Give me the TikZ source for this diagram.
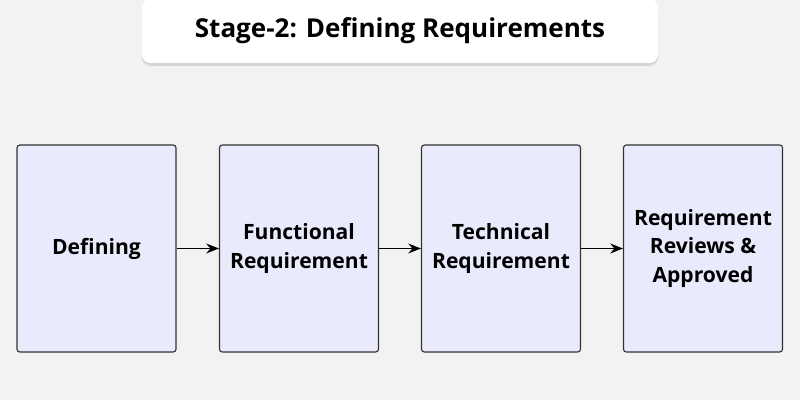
\documentclass[tikz,border=0pt]{standalone}
\usepackage{fontspec}
\setmainfont{Open Sans}
\usetikzlibrary{arrows.meta,positioning,shadows}
\definecolor{bgcol}{HTML}{F2F2F2}
\definecolor{boxcol}{HTML}{E9EAFB}
\begin{document}
\begin{tikzpicture}[x=0.025cm,y=-0.025cm,>={Stealth[length=9pt,width=7pt]},
  stage node/.style={draw=black!80,fill=boxcol,rounded corners=2pt,line width=0.8pt,
    minimum width=159*0.025cm,minimum height=207*0.025cm,align=center,
    font=\fontsize{15}{20}\selectfont\bfseries},
  title node/.style={fill=white,rounded corners=6pt,minimum width=516*0.025cm,
    minimum height=64*0.025cm,drop shadow={opacity=0.25,shadow xshift=0pt,shadow yshift=-2pt},
    font=\fontsize{18.5}{20}\selectfont\bfseries}]
  \fill[bgcol] (0,0) rectangle (800,400);
  \useasboundingbox (0,0) rectangle (800,400);
  \node[title node] (title) at (400,31) {Stage-2: Defining Requirements};
  \node[stage node] (1) at (96.5,248.5) {Defining};
  \node[stage node] (2) at (299,248.5) {Functional\\Requirement};
  \node[stage node] (3) at (501,248.5) {Technical\\Requirement};
  \node[stage node] (4) at (703,248.5) {Requirement\\Reviews \&\\Approved};
  \foreach \a/\b in {1/2,2/3,3/4}
    \draw[->,line width=1.2pt] (\a) -- (\b);
\end{tikzpicture}
\end{document}
